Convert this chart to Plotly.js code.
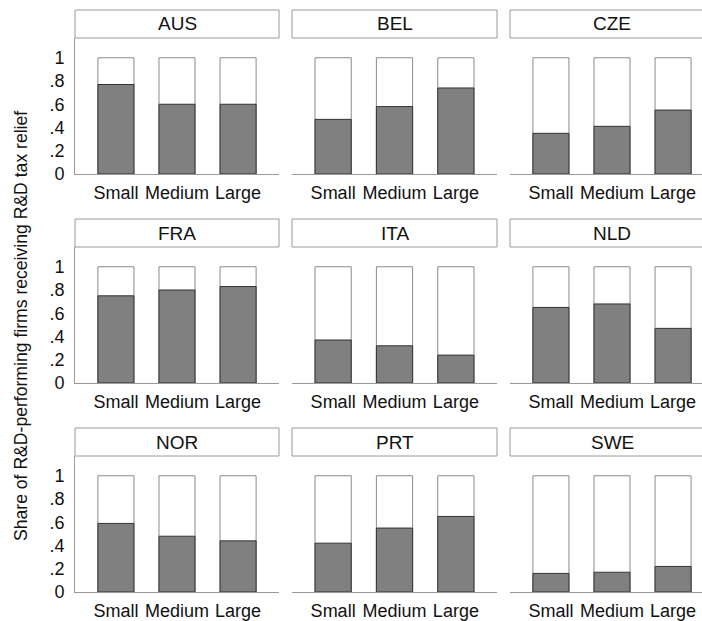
<!DOCTYPE html>
<html>
<head>
<meta charset="utf-8">
<script src="https://cdn.plot.ly/plotly-3.0.1.min.js"></script>
<style>
html,body{margin:0;padding:0;overflow:hidden;background:#fff;}
#chart{width:720px;height:621px;}
</style>
</head>
<body>
<div id="chart"></div>
<script>
// ---- data ----
const sizes = ['Small', 'Medium', 'Large'];
const countries = ['AUS', 'BEL', 'CZE', 'FRA', 'ITA', 'NLD', 'NOR', 'PRT', 'SWE'];
const AUS = [0.77, 0.60, 0.60];
const BEL = [0.47, 0.58, 0.74];
const CZE = [0.35, 0.41, 0.55];
const FRA = [0.75, 0.80, 0.83];
const ITA = [0.37, 0.32, 0.24];
const NLD = [0.65, 0.68, 0.47];
const NOR = [0.59, 0.48, 0.44];
const PRT = [0.42, 0.55, 0.65];
const SWE = [0.16, 0.17, 0.22];
const totals = [1, 1, 1];
const shares = {AUS, BEL, CZE, FRA, ITA, NLD, NOR, PRT, SWE};
const yTickVals = [0, 0.2, 0.4, 0.6, 0.8, 1];
const yTickText = ['0', '.2', '.4', '.6', '.8', '1'];
const yTitle = 'Share of R&D-performing firms receiving R&D tax relief';

// ---- layout geometry (pixels) ----
const W = 720, H = 621;
const colX = [[75, 279], [292, 497], [510, 714]];
const rowY = [[38, 174], [247, 383], [456, 592]]; // [top, axis]
const headerH = 28;
const FONT = 'Liberation Sans, Arial, sans-serif';

const traces = [];
const layout = {
  width: W, height: H,
  margin: {l: 0, r: 0, t: 0, b: 0},
  paper_bgcolor: '#fff', plot_bgcolor: '#fff',
  showlegend: false,
  barmode: 'overlay',
  font: {family: FONT, color: '#111', size: 18},
  shapes: [], annotations: []
};

countries.forEach((c, i) => {
  const r = Math.floor(i / 3), col = i % 3;
  const n = i === 0 ? '' : String(i + 1);
  const xa = 'x' + n, ya = 'y' + n;
  traces.push({
    type: 'bar', x: sizes, y: totals, xaxis: xa, yaxis: ya,
    width: 0.59, marker: {color: '#ffffff', line: {color: '#8a8a8a', width: 1}},
    hoverinfo: 'skip'
  });
  traces.push({
    type: 'bar', x: sizes, y: shares[c], xaxis: xa, yaxis: ya,
    width: 0.59, marker: {color: '#808080', line: {color: '#333333', width: 1}},
    hoverinfo: 'skip'
  });
  const [x0, x1] = colX[col];
  const [top, axisY] = rowY[r];
  layout['xaxis' + n] = {
    domain: [x0 / W, x1 / W], anchor: ya,
    range: [-0.67, 2.67], type: 'category', fixedrange: true,
    showline: true, linecolor: '#9a9a9a', linewidth: 1,
    showgrid: false, zeroline: false,
    ticks: 'outside', ticklen: 2, tickcolor: 'rgba(0,0,0,0)',
    tickfont: {family: FONT, size: 18, color: '#111'}
  };
  layout['yaxis' + n] = {
    domain: [1 - axisY / H, 1 - top / H], anchor: xa,
    range: [0, 1.17], fixedrange: true,
    showline: col === 0, linecolor: '#9a9a9a', linewidth: 1,
    showgrid: false, zeroline: false,
    tickvals: yTickVals, ticktext: yTickText,
    showticklabels: col === 0,
    ticks: col === 0 ? 'outside' : '', ticklen: 6, tickcolor: 'rgba(0,0,0,0)',
    tickfont: {family: FONT, size: 18, color: '#111'}
  };
  // header strip
  layout.shapes.push({
    type: 'rect', xref: 'paper', yref: 'paper',
    x0: x0 / W, x1: x1 / W,
    y0: 1 - top / H, y1: 1 - (top - headerH) / H,
    fillcolor: '#ffffff', line: {color: '#9a9a9a', width: 1}
  });
  layout.annotations.push({
    xref: 'paper', yref: 'paper',
    x: (x0 + x1) / 2 / W, y: 1 - (top - headerH / 2) / H,
    text: c, showarrow: false, xanchor: 'center', yanchor: 'middle',
    font: {family: FONT, size: 19, color: '#111'}
  });
});

layout.annotations.push({
  xref: 'paper', yref: 'paper',
  x: 21 / W, y: 1 - 326 / H,
  text: yTitle, textangle: -90, showarrow: false,
  xanchor: 'center', yanchor: 'middle',
  font: {family: FONT, size: 17.6, color: '#111'}
});

Plotly.newPlot('chart', traces, layout, {displayModeBar: false, staticPlot: true});
</script>
</body>
</html>
